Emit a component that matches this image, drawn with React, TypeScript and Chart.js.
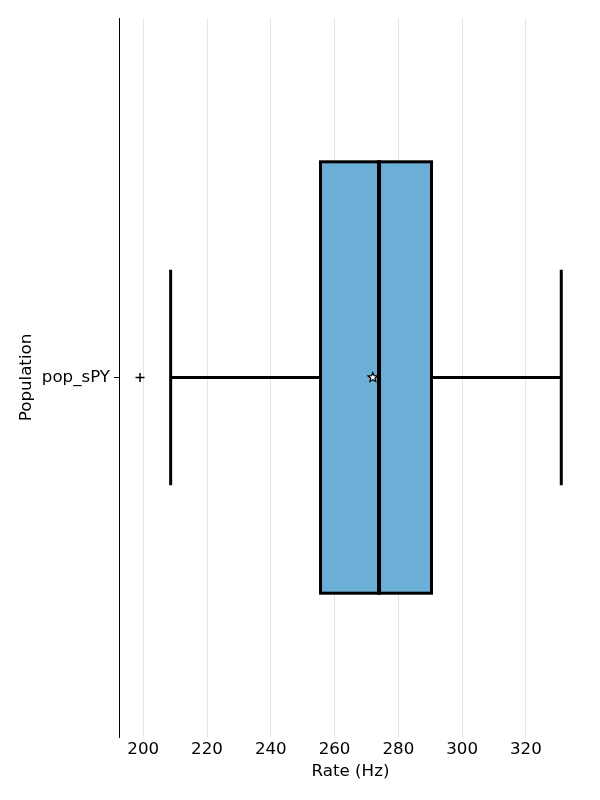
import React, { useEffect, useRef } from "react";
import { Chart, registerables } from "chart.js";

Chart.register(...registerables);

const categories = ["pop_sPY"];
const q1Values = [255.6];
const q3Values = [290.4];
const medianValues = [273.95];
const meanValues = [272.0];
const whiskerLowValues = [208.6];
const whiskerHighValues = [331.1];
const outlierValues = [[199.0]];
const xTickValues = [200, 220, 240, 260, 280, 300, 320];
const xMin = 192.4;
const xMax = 337.6;

const FONT = "'DejaVu Sans', sans-serif";
const FS = 16.67;

const boxPlugin = {
  id: "boxExtras",
  afterDatasetsDraw(chart: any) {
    const { ctx } = chart;
    const xs = chart.scales.x;
    const ys = chart.scales.y;
    const meta = chart.getDatasetMeta(0);
    categories.forEach((_, i) => {
      const yc = ys.getPixelForValue(i);
      const bar = meta.data[i];
      const half = bar ? bar.height / 2 : 0;
      const capHalf = half / 2;
      const x1 = xs.getPixelForValue(q1Values[i]);
      const x3 = xs.getPixelForValue(q3Values[i]);
      const xl = xs.getPixelForValue(whiskerLowValues[i]);
      const xh = xs.getPixelForValue(whiskerHighValues[i]);
      ctx.save();
      ctx.strokeStyle = "#000";
      // box outline (centered on edges)
      ctx.lineWidth = 3;
      ctx.lineJoin = "miter";
      ctx.strokeRect(x1, yc - half, x3 - x1, 2 * half);
      ctx.lineWidth = 3;
      ctx.lineCap = "butt";
      ctx.beginPath();
      ctx.moveTo(xl, yc);
      ctx.lineTo(x1, yc);
      ctx.moveTo(x3, yc);
      ctx.lineTo(xh, yc);
      ctx.moveTo(xl, yc - capHalf);
      ctx.lineTo(xl, yc + capHalf);
      ctx.moveTo(xh, yc - capHalf);
      ctx.lineTo(xh, yc + capHalf);
      ctx.stroke();
      // median
      const xm = xs.getPixelForValue(medianValues[i]);
      ctx.lineWidth = 4;
      ctx.beginPath();
      ctx.moveTo(xm, yc - half - 1.5);
      ctx.lineTo(xm, yc + half + 1.5);
      ctx.stroke();
      // outliers
      ctx.lineWidth = 1.5;
      outlierValues[i].forEach((v) => {
        const xo = xs.getPixelForValue(v);
        ctx.beginPath();
        ctx.moveTo(xo - 4.5, yc);
        ctx.lineTo(xo + 4.5, yc);
        ctx.moveTo(xo, yc - 4.5);
        ctx.lineTo(xo, yc + 4.5);
        ctx.stroke();
      });
      // mean star
      const xmean = xs.getPixelForValue(meanValues[i]);
      const ro = 5, ri = 2.2;
      ctx.beginPath();
      for (let k = 0; k < 10; k++) {
        const r = k % 2 === 0 ? ro : ri;
        const a = -Math.PI / 2 + (k * Math.PI) / 5;
        const px = xmean + r * Math.cos(a);
        const py = yc + r * Math.sin(a);
        if (k === 0) ctx.moveTo(px, py);
        else ctx.lineTo(px, py);
      }
      ctx.closePath();
      ctx.fillStyle = "#fff";
      ctx.fill();
      ctx.lineWidth = 1.2;
      ctx.stroke();
      ctx.restore();
    });
  },
};

export default function App() {
  const ref = useRef<HTMLCanvasElement>(null);
  useEffect(() => {
    if (!ref.current) return;
    const chart = new Chart(ref.current, {
      type: "bar",
      data: {
        labels: categories,
        datasets: [
          {
            data: categories.map((_, i) => [q1Values[i], q3Values[i]]) as any,
            backgroundColor: "#6baed6",
            borderWidth: 0,
            barPercentage: 0.6,
            categoryPercentage: 1,
          },
        ],
      },
      options: {
        indexAxis: "y",
        animation: false,
        responsive: true,
        maintainAspectRatio: false,
        layout: { padding: { top: 18, right: 18, left: 0, bottom: 0 } },
        plugins: { legend: { display: false }, tooltip: { enabled: false } },
        scales: {
          x: {
            type: "linear",
            min: xMin,
            max: xMax,
            afterBuildTicks: (s: any) => {
              s.ticks = xTickValues.map((v) => ({ value: v }));
            },
            afterFit: (s: any) => {
              s.height = 63;
            },
            grid: { color: "#e5e5e5", lineWidth: 1, drawTicks: false },
            border: { display: false },
            ticks: {
              color: "#000",
              font: { family: FONT, size: FS },
              padding: 3,
              maxRotation: 0,
            },
            title: {
              display: true,
              text: "Rate (Hz)",
              color: "#000",
              font: { family: FONT, size: FS },
              padding: { top: 0, bottom: 18 },
            },
          },
          y: {
            type: "category",
            offset: true,
            afterFit: (s: any) => {
              s.width = 119;
            },
            grid: {
              drawOnChartArea: false,
              drawTicks: true,
              tickLength: 5,
              color: "#000",
              offset: false,
            },
            border: { display: true, color: "#000", width: 1 },
            ticks: {
              color: "#000",
              font: { family: FONT, size: FS },
              padding: 4,
            },
            title: {
              display: true,
              text: "Population",
              color: "#000",
              font: { family: FONT, size: FS },
              padding: { top: 17, bottom: 0 },
            },
          },
        },
      },
      plugins: [boxPlugin],
    });
    return () => chart.destroy();
  }, []);
  return (
    <div style={{ position: "fixed", left: 0, top: 0, width: 600, height: 800, background: "#fff" }}>
      <canvas ref={ref} />
    </div>
  );
}
